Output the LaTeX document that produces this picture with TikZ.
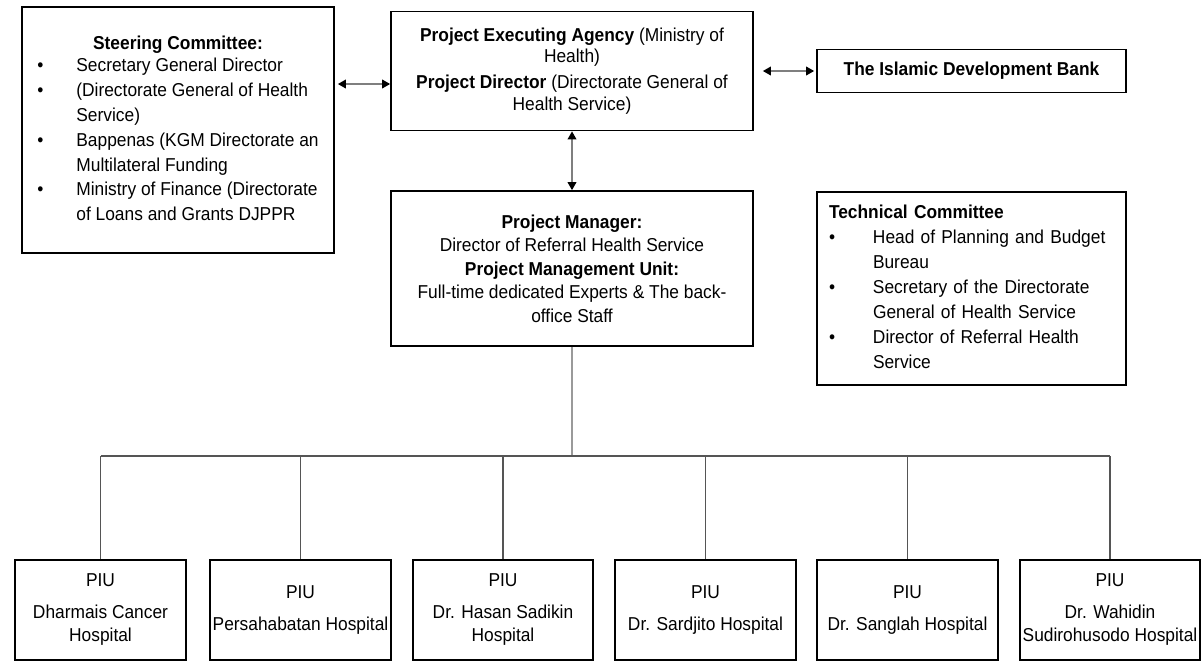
\documentclass[tikz,border=0pt]{standalone}
\usepackage{fontspec}
\setmainfont{Liberation Sans}[FakeStretch=0.93]
\usetikzlibrary{arrows.meta}
\definecolor{shaft}{HTML}{7F7F7F}
\definecolor{trunk}{HTML}{9A9A9A}
\definecolor{branch}{HTML}{555555}
\begin{document}
\begin{tikzpicture}[x=0.75pt,y=-0.75pt,
  box/.style={draw=black, line width=1.3pt, fill=white, inner sep=0pt, align=center},
  listfont/.style={font=\fontsize{14}{18.7}\selectfont},
  piubox/.style={box, minimum height=75pt, font=\fontsize{14}{17.25}\selectfont},
  biarrow/.style={draw=shaft, line width=1.1pt, {Triangle[length=6pt,width=6.5pt,color=black]}-{Triangle[length=6pt,width=6.5pt,color=black]}},
  trunkline/.style={draw=trunk, line width=1.1pt},
  branchline/.style={draw=branch, line width=0.9pt}]
\useasboundingbox (0,0) rectangle (1203,662);

% Steering committee
\node[box, listfont, minimum width=234pt, minimum height=184.5pt] (sc) at (178,130) {%
\begin{tabular}{@{}p{29.25pt}@{}l@{}}
\multicolumn{2}{c}{\textbf{Steering Committee:}}\\[-2pt]
\textbullet & Secretary General Director\\
\textbullet & (Directorate General of Health\\
 & Service)\\
\textbullet & Bappenas  (KGM Directorate an\\
 & Multilateral  Funding\\
\textbullet & Ministry of Finance (Directorate\\
 & of Loans and Grants DJPPR
\end{tabular}};

% Project executing agency
\node[box, font=\fontsize{14}{16.1}\selectfont, minimum width=271.5pt, minimum height=89.25pt] (pea) at (572,71) {%
\textbf{Project Executing Agency} (Ministry of\\ Health)\\[3.4pt]
\textbf{Project Director} (Directorate General of\\ Health Service)};

% Islamic Development Bank
\node[box, font=\fontsize{14}{16}\selectfont, minimum width=231.75pt, minimum height=32.25pt] (idb) at (971.5,71) {\textbf{The Islamic Development Bank}};

% Project manager
\node[box, font=\fontsize{14}{17.6}\selectfont, minimum width=271.5pt, minimum height=116.25pt] (pm) at (572,268.5) {%
\textbf{Project Manager:}\\
Director of Referral Health Service\\
\textbf{Project Management Unit:}\\
Full-time dedicated Experts \& The back-\\
office Staff};

% Technical committee
\node[box, listfont, align=left, text width=213.75pt, inner xsep=9pt, inner ysep=0pt, minimum width=231.75pt, minimum height=144.75pt] (tc) at (971.5,288.5) {%
\begin{tabular}{@{}p{33pt}@{}l@{}}
\multicolumn{2}{@{}l}{\textbf{Technical Committee}}\\
\textbullet & Head of Planning  and Budget\\
 & Bureau\\
\textbullet & Secretary of the Directorate\\
 & General of Health Service\\
\textbullet & Director of Referral Health\\
 & Service
\end{tabular}};

% PIU boxes
\node[piubox, minimum width=128.25pt] (p1) at (100.5,610) {PIU\\[6.75pt]Dharmais Cancer\\Hospital};
\node[piubox, minimum width=135.75pt] (p2) at (300.5,610) {PIU\\[6.75pt]Persahabatan Hospital};
\node[piubox, minimum width=135pt] (p3) at (503,610) {PIU\\[6.75pt]Dr. Hasan Sadikin\\Hospital};
\node[piubox, minimum width=135.75pt] (p4) at (705.5,610) {PIU\\[6.75pt]Dr. Sardjito  Hospital};
\node[piubox, minimum width=135.75pt] (p5) at (907.5,610) {PIU\\[6.75pt]Dr. Sanglah  Hospital};
\node[piubox, minimum width=135pt] (p6) at (1110,610) {PIU\\[6.75pt]Dr. Wahidin\\Sudirohusodo  Hospital};

% Arrows
\draw[biarrow, shorten <=2.25pt] ([yshift=34.5pt]sc.east) -- ([yshift=34.5pt]sc.east -| pea.west);
\draw[biarrow, shorten <=6.75pt, shorten >=1.5pt] (pea.east) -- (idb.west);
\draw[biarrow] (pea.south) -- (pm.north);

% Tree
\coordinate (bus) at (572,456);
\draw[trunkline] (pm.south) -- (bus);
\draw[branchline] (p1.north |- bus) -- (p6.north |- bus);
\foreach \p in {p1,p2,p3,p4,p5,p6}
  \draw[branchline] (\p.north) -- (\p.north |- bus);
\end{tikzpicture}
\end{document}
